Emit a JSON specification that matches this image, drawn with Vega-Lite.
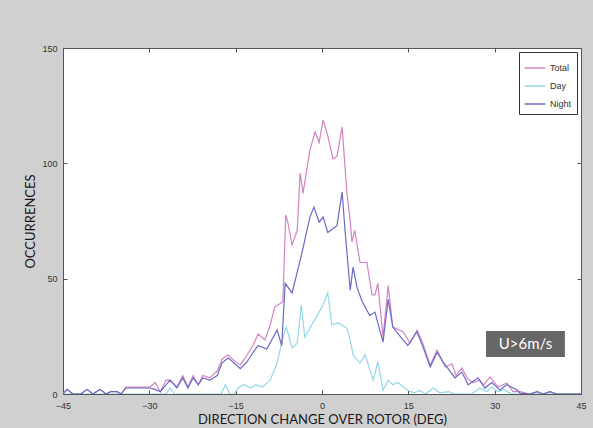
{
  "$schema": "https://vega.github.io/schema/vega-lite/v6.json",
  "width": 518,
  "height": 346,
  "autosize": "none",
  "padding": {"left": 63, "top": 48, "right": 12, "bottom": 34},
  "background": "#d0d0d0",
  "config": {
    "view": {"stroke": "#555555", "strokeWidth": 1, "fill": "white"},
    "axis": {"labelFont": "Liberation Sans Narrow, Liberation Sans", "labelFontSize": 9, "labelColor": "#333333", "domainColor": "#555555", "tickColor": "#555555", "titleFont": "Lato", "titleFontSize": 13, "titleFontWeight": "normal", "titleColor": "#1a1a1a", "grid": false}
  },
  "datasets": {
    "lines": [
      {"s": "Total", "x": -45, "y": 0}, {"s": "Total", "x": -44.3, "y": 2}, {"s": "Total", "x": -43.3, "y": 0}, {"s": "Total", "x": -41.9, "y": 0}, {"s": "Total", "x": -40.8, "y": 2}, {"s": "Total", "x": -39.8, "y": 0}, {"s": "Total", "x": -38.6, "y": 2}, {"s": "Total", "x": -37.5, "y": 0}, {"s": "Total", "x": -36.7, "y": 1}, {"s": "Total", "x": -35.6, "y": 1}, {"s": "Total", "x": -34.9, "y": 0}, {"s": "Total", "x": -34.1, "y": 3}, {"s": "Total", "x": -29.9, "y": 3}, {"s": "Total", "x": -29.0, "y": 5}, {"s": "Total", "x": -28.1, "y": 1}, {"s": "Total", "x": -27.1, "y": 6}, {"s": "Total", "x": -26.4, "y": 6}, {"s": "Total", "x": -25.2, "y": 3}, {"s": "Total", "x": -24.2, "y": 8}, {"s": "Total", "x": -23.3, "y": 3}, {"s": "Total", "x": -22.4, "y": 8}, {"s": "Total", "x": -21.5, "y": 4}, {"s": "Total", "x": -20.7, "y": 8}, {"s": "Total", "x": -19.5, "y": 7}, {"s": "Total", "x": -18.2, "y": 10}, {"s": "Total", "x": -17.4, "y": 15}, {"s": "Total", "x": -16.3, "y": 17}, {"s": "Total", "x": -15.5, "y": 15}, {"s": "Total", "x": -14.2, "y": 12.6}, {"s": "Total", "x": -13.0, "y": 17}, {"s": "Total", "x": -12.0, "y": 21}, {"s": "Total", "x": -11.1, "y": 26}, {"s": "Total", "x": -9.9, "y": 23.4}, {"s": "Total", "x": -9.0, "y": 30}, {"s": "Total", "x": -8.2, "y": 37.7}, {"s": "Total", "x": -6.8, "y": 40}, {"s": "Total", "x": -6.3, "y": 77.6}, {"s": "Total", "x": -5.9, "y": 74}, {"s": "Total", "x": -5.2, "y": 64.6}, {"s": "Total", "x": -4.3, "y": 71}, {"s": "Total", "x": -3.8, "y": 95.8}, {"s": "Total", "x": -3.3, "y": 87}, {"s": "Total", "x": -2.1, "y": 105.8}, {"s": "Total", "x": -1.2, "y": 113.6}, {"s": "Total", "x": -0.5, "y": 109}, {"s": "Total", "x": 0.2, "y": 118.8}, {"s": "Total", "x": 1.0, "y": 112}, {"s": "Total", "x": 1.9, "y": 102}, {"s": "Total", "x": 2.6, "y": 103}, {"s": "Total", "x": 3.5, "y": 115.7}, {"s": "Total", "x": 4.3, "y": 88}, {"s": "Total", "x": 4.9, "y": 75}, {"s": "Total", "x": 5.2, "y": 66}, {"s": "Total", "x": 5.7, "y": 71}, {"s": "Total", "x": 6.6, "y": 57}, {"s": "Total", "x": 7.8, "y": 57}, {"s": "Total", "x": 8.7, "y": 43}, {"s": "Total", "x": 9.2, "y": 43}, {"s": "Total", "x": 9.7, "y": 48}, {"s": "Total", "x": 10.6, "y": 24.7}, {"s": "Total", "x": 11.5, "y": 47}, {"s": "Total", "x": 12.3, "y": 29}, {"s": "Total", "x": 14.1, "y": 27}, {"s": "Total", "x": 15.3, "y": 22}, {"s": "Total", "x": 16.5, "y": 27.7}, {"s": "Total", "x": 17.5, "y": 22}, {"s": "Total", "x": 18.8, "y": 12.6}, {"s": "Total", "x": 20.0, "y": 19}, {"s": "Total", "x": 21.0, "y": 14}, {"s": "Total", "x": 21.4, "y": 11.7}, {"s": "Total", "x": 22.6, "y": 13}, {"s": "Total", "x": 23.3, "y": 8}, {"s": "Total", "x": 24.3, "y": 11.3}, {"s": "Total", "x": 25.2, "y": 7}, {"s": "Total", "x": 26.2, "y": 4.8}, {"s": "Total", "x": 27.4, "y": 6}, {"s": "Total", "x": 28.1, "y": 4}, {"s": "Total", "x": 29.2, "y": 7.4}, {"s": "Total", "x": 30.6, "y": 3}, {"s": "Total", "x": 32.1, "y": 4.8}, {"s": "Total", "x": 33.2, "y": 1}, {"s": "Total", "x": 34.4, "y": 1}, {"s": "Total", "x": 36.1, "y": 0}, {"s": "Total", "x": 37.4, "y": 1}, {"s": "Total", "x": 38.4, "y": 0}, {"s": "Total", "x": 39.6, "y": 1}, {"s": "Total", "x": 40.8, "y": 0}, {"s": "Total", "x": 45, "y": 0},

      {"s": "Day", "x": -45, "y": 0}, {"s": "Day", "x": -27.1, "y": 0}, {"s": "Day", "x": -26.4, "y": 2.6}, {"s": "Day", "x": -25.6, "y": 0}, {"s": "Day", "x": -17.5, "y": 0}, {"s": "Day", "x": -16.8, "y": 4}, {"s": "Day", "x": -16.0, "y": 0}, {"s": "Day", "x": -15.2, "y": 0}, {"s": "Day", "x": -14.6, "y": 2.6}, {"s": "Day", "x": -13.6, "y": 4}, {"s": "Day", "x": -12.4, "y": 2.6}, {"s": "Day", "x": -11.5, "y": 4}, {"s": "Day", "x": -10.4, "y": 3}, {"s": "Day", "x": -9.0, "y": 6}, {"s": "Day", "x": -7.8, "y": 13.4}, {"s": "Day", "x": -6.9, "y": 23.4}, {"s": "Day", "x": -6.2, "y": 29}, {"s": "Day", "x": -5.2, "y": 20}, {"s": "Day", "x": -4.3, "y": 22}, {"s": "Day", "x": -3.6, "y": 38.6}, {"s": "Day", "x": -3.0, "y": 24.7}, {"s": "Day", "x": -1.6, "y": 30.8}, {"s": "Day", "x": 0.0, "y": 37.7}, {"s": "Day", "x": 1.0, "y": 43.8}, {"s": "Day", "x": 1.7, "y": 30}, {"s": "Day", "x": 2.8, "y": 30.8}, {"s": "Day", "x": 4.3, "y": 28.6}, {"s": "Day", "x": 4.9, "y": 23.4}, {"s": "Day", "x": 5.4, "y": 17}, {"s": "Day", "x": 6.6, "y": 13.4}, {"s": "Day", "x": 7.5, "y": 17}, {"s": "Day", "x": 8.9, "y": 6}, {"s": "Day", "x": 9.7, "y": 14}, {"s": "Day", "x": 10.6, "y": 1.7}, {"s": "Day", "x": 11.5, "y": 6}, {"s": "Day", "x": 12.3, "y": 4}, {"s": "Day", "x": 13.2, "y": 5}, {"s": "Day", "x": 14.8, "y": 1.7}, {"s": "Day", "x": 16.0, "y": 0.5}, {"s": "Day", "x": 17.0, "y": 1.5}, {"s": "Day", "x": 18.0, "y": 0}, {"s": "Day", "x": 19.3, "y": 2.6}, {"s": "Day", "x": 20.5, "y": 0.5}, {"s": "Day", "x": 22.0, "y": 1}, {"s": "Day", "x": 23.0, "y": 0}, {"s": "Day", "x": 26.0, "y": 0}, {"s": "Day", "x": 27.4, "y": 2.5}, {"s": "Day", "x": 28.7, "y": 1}, {"s": "Day", "x": 29.5, "y": 3}, {"s": "Day", "x": 30.6, "y": 1}, {"s": "Day", "x": 31.5, "y": 2}, {"s": "Day", "x": 33.0, "y": 0}, {"s": "Day", "x": 45, "y": 0},

      {"s": "Night", "x": -45, "y": 0}, {"s": "Night", "x": -44.3, "y": 2}, {"s": "Night", "x": -43.3, "y": 0}, {"s": "Night", "x": -41.9, "y": 0}, {"s": "Night", "x": -40.8, "y": 2}, {"s": "Night", "x": -39.8, "y": 0}, {"s": "Night", "x": -38.6, "y": 2}, {"s": "Night", "x": -37.5, "y": 0}, {"s": "Night", "x": -36.7, "y": 1}, {"s": "Night", "x": -35.6, "y": 1}, {"s": "Night", "x": -34.9, "y": 0}, {"s": "Night", "x": -34.1, "y": 2.6}, {"s": "Night", "x": -29.9, "y": 2.6}, {"s": "Night", "x": -29.0, "y": 2}, {"s": "Night", "x": -28.1, "y": 1}, {"s": "Night", "x": -27.1, "y": 4}, {"s": "Night", "x": -26.4, "y": 6}, {"s": "Night", "x": -25.2, "y": 2.6}, {"s": "Night", "x": -24.2, "y": 7}, {"s": "Night", "x": -23.3, "y": 2.6}, {"s": "Night", "x": -22.4, "y": 7}, {"s": "Night", "x": -21.5, "y": 4}, {"s": "Night", "x": -20.7, "y": 7}, {"s": "Night", "x": -19.5, "y": 6}, {"s": "Night", "x": -18.2, "y": 8}, {"s": "Night", "x": -17.4, "y": 13.4}, {"s": "Night", "x": -16.3, "y": 15.6}, {"s": "Night", "x": -15.5, "y": 14}, {"s": "Night", "x": -14.2, "y": 11}, {"s": "Night", "x": -13.0, "y": 14}, {"s": "Night", "x": -12.0, "y": 18}, {"s": "Night", "x": -11.1, "y": 21}, {"s": "Night", "x": -9.6, "y": 19.5}, {"s": "Night", "x": -7.8, "y": 27.7}, {"s": "Night", "x": -7.0, "y": 21}, {"s": "Night", "x": -6.4, "y": 48}, {"s": "Night", "x": -5.2, "y": 43.8}, {"s": "Night", "x": -3.5, "y": 61}, {"s": "Night", "x": -2.1, "y": 76.7}, {"s": "Night", "x": -1.4, "y": 81}, {"s": "Night", "x": -0.5, "y": 74.5}, {"s": "Night", "x": 0.2, "y": 76.7}, {"s": "Night", "x": 1.0, "y": 70}, {"s": "Night", "x": 2.6, "y": 73}, {"s": "Night", "x": 3.5, "y": 87.6}, {"s": "Night", "x": 4.0, "y": 71}, {"s": "Night", "x": 4.9, "y": 45}, {"s": "Night", "x": 5.4, "y": 55}, {"s": "Night", "x": 6.1, "y": 46}, {"s": "Night", "x": 7.0, "y": 40}, {"s": "Night", "x": 8.3, "y": 34}, {"s": "Night", "x": 9.2, "y": 35.5}, {"s": "Night", "x": 10.6, "y": 22.5}, {"s": "Night", "x": 11.5, "y": 41}, {"s": "Night", "x": 12.3, "y": 29}, {"s": "Night", "x": 13.9, "y": 24}, {"s": "Night", "x": 14.9, "y": 21}, {"s": "Night", "x": 16.5, "y": 27}, {"s": "Night", "x": 17.6, "y": 20}, {"s": "Night", "x": 18.8, "y": 11.7}, {"s": "Night", "x": 20.0, "y": 18}, {"s": "Night", "x": 21.0, "y": 14}, {"s": "Night", "x": 23.1, "y": 7}, {"s": "Night", "x": 24.3, "y": 9.5}, {"s": "Night", "x": 25.4, "y": 4}, {"s": "Night", "x": 27.1, "y": 7}, {"s": "Night", "x": 28.3, "y": 2.6}, {"s": "Night", "x": 29.5, "y": 5}, {"s": "Night", "x": 30.9, "y": 1.7}, {"s": "Night", "x": 32.1, "y": 4}, {"s": "Night", "x": 33.9, "y": 1.7}, {"s": "Night", "x": 34.4, "y": 0.4}, {"s": "Night", "x": 36.1, "y": 0}, {"s": "Night", "x": 37.4, "y": 1}, {"s": "Night", "x": 38.4, "y": 0}, {"s": "Night", "x": 39.6, "y": 1}, {"s": "Night", "x": 40.8, "y": 0}, {"s": "Night", "x": 45, "y": 0}
    ],
    "note": [{"x1": 28.5, "x2": 42.2, "y1": 16.0, "y2": 27.3, "xm": 35.35, "ym": 21.6, "label": "U>6m/s"}]
  },
  "layer": [
    {
      "data": {"name": "lines"},
      "mark": {"type": "line", "strokeWidth": 1.2, "clip": true},
      "encoding": {
        "x": {"field": "x", "type": "quantitative", "scale": {"domain": [-45, 45], "nice": false, "zero": false},
              "axis": {"values": [-45, -30, -15, 0, 15, 30, 45], "title": "DIRECTION CHANGE OVER ROTOR (DEG)", "tickSize": -4, "labelPadding": 11, "titlePadding": 3, "domain": true, "labelFlush": false}},
        "y": {"field": "y", "type": "quantitative", "scale": {"domain": [0, 150], "nice": false},
              "axis": {"values": [0, 50, 100, 150], "title": "OCCURRENCES", "tickSize": -4, "labelPadding": 10, "titlePadding": 4}},
        "color": {"field": "s", "type": "nominal", "sort": ["Total", "Day", "Night"],
                  "scale": {"domain": ["Total", "Day", "Night"], "range": ["#d383c2", "#92d8e8", "#6a6ac6"]},
                  "legend": {"title": null, "orient": "top-right", "offset": 4, "symbolType": "stroke", "symbolSize": 420, "symbolStrokeWidth": 1.5, "labelFont": "Liberation Sans Narrow, Liberation Sans", "labelFontSize": 9, "labelColor": "#333333", "strokeColor": "#333333", "fillColor": "white", "padding": 5, "rowPadding": 2, "labelOffset": 4, "symbolOffset": 0}}
      }
    },
    {
      "data": {"name": "note"},
      "mark": {"type": "rect", "color": "#666666"},
      "encoding": {
        "x": {"field": "x1", "type": "quantitative", "axis": {"orient": "top", "values": [-45, -30, -15, 0, 15, 30, 45], "labels": false, "title": null, "tickSize": -4, "domain": false}},
        "x2": {"field": "x2"},
        "y": {"field": "y1", "type": "quantitative", "axis": {"orient": "right", "values": [0, 50, 100, 150], "labels": false, "title": null, "tickSize": -4, "domain": false}},
        "y2": {"field": "y2"}
      }
    },
    {
      "data": {"name": "note"},
      "mark": {"type": "text", "color": "white", "font": "Lato", "fontSize": 15, "align": "center", "baseline": "middle"},
      "encoding": {
        "x": {"field": "xm", "type": "quantitative", "axis": null},
        "y": {"field": "ym", "type": "quantitative", "axis": null},
        "text": {"field": "label"}
      }
    }
  ],
  "resolve": {"axis": {"x": "independent", "y": "independent"}}
}
